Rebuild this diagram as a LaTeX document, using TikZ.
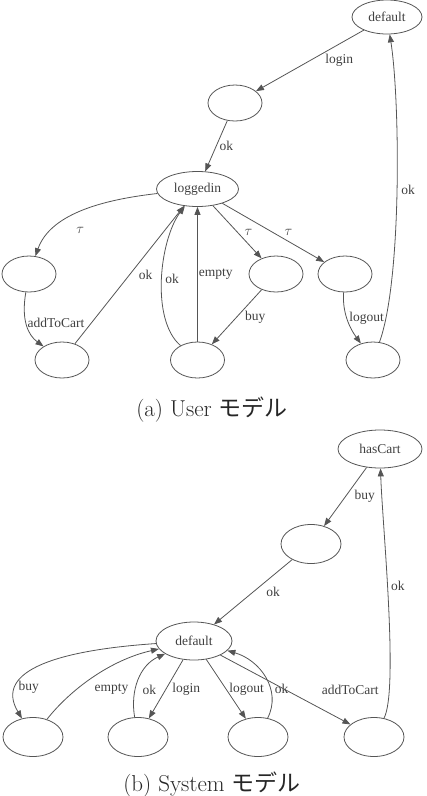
\documentclass[tikz,border=0pt]{standalone}
\usepackage{fontspec}
\newfontfamily\gvfont{Liberation Serif}
\newfontfamily\jpfont{Noto Sans CJK JP}
\usetikzlibrary{arrows.meta,positioning,shapes.geometric}
\definecolor{gvline}{HTML}{555555}
\definecolor{gvtext}{HTML}{404040}

\begin{document}
\begin{tikzpicture}[
  x=1pt,y=-1pt,
  >={Triangle[length=8pt,width=6pt]},
  state/.style={ellipse,draw=gvline,line width=0.8pt,inner sep=0pt,
    minimum width=54pt,minimum height=36pt,text=gvtext,
    font=\gvfont\fontsize{13.5}{14}\selectfont},
  bigstate/.style={state,minimum width=60pt,minimum height=39pt},
  trans/.style={->,draw=gvline,line width=0.8pt},
  lbl/.style={text=gvtext,inner sep=1pt,font=\gvfont\fontsize{13.5}{14}\selectfont},
  caption/.style={text=black!85,font=\fontsize{23}{23}\selectfont}
]
  \useasboundingbox (0,0) rectangle (427,796);

  % (a) User model
  \node[state,minimum width=70pt,minimum height=34pt] (udefault) at (387,17) {default};
  \node[state] (uwait) at (235,103) {};
  \node[state,minimum width=82pt,minimum height=35pt] (uloggedin) at (197.5,189) {loggedin};
  \node[state] (ucart) at (29,274) {};
  \node[state] (ucartok) at (62,360) {};
  \node[state] (ubuy) at (276,274) {};
  \node[state] (ubuyok) at (197.5,360) {};
  \node[state] (uout) at (345,274) {};
  \node[state] (uoutok) at (373,360) {};

  \draw[trans] (udefault) -- node[lbl,pos=.5,right=14pt] {login} (uwait);
  \draw[trans] (uwait) -- node[lbl,pos=.5,right=2pt] {ok} (uloggedin);
  \draw[trans] (uloggedin) .. controls +(-98,11) and +(21,-59) ..
    node[lbl,pos=.5,below=14pt] {$\tau$} (ucart);
  \draw[trans] (ucart) .. controls +(-8,46) and +(-34,-25) ..
    node[lbl,pos=.45,right=0pt] {addToCart} (ucartok);
  \draw[trans] (ucartok) -- node[lbl,pos=.5,right=8pt] {ok} (uloggedin);
  \draw[trans] (ubuyok) .. controls +(-47,-40) and +(-38,51) ..
    node[lbl,pos=.5,right=2pt] {ok} (uloggedin);
  \draw[trans] (ubuyok) -- node[lbl,pos=.5,right=0pt] {empty} (uloggedin);
  \draw[trans] (uloggedin) -- node[lbl,pos=.5,right=6pt] {$\tau$} (ubuy);
  \draw[trans] (ubuy) -- node[lbl,pos=.5,right=7pt] {buy} (ubuyok);
  \draw[trans] (uloggedin) -- node[lbl,pos=.5,right=10pt] {$\tau$} (uout);
  \draw[trans] (uout) .. controls +(-3,40) and +(-22,-30) ..
    node[lbl,pos=.45,right=1pt] {logout} (uoutok);
  \draw[trans] (uoutok) .. controls +(29,-80) and +(13,83) ..
    node[lbl,pos=.5,right=3pt] {ok} (udefault);

  \node[caption] (capa) at (212,410) {(a) User {\jpfont モデル}};

  % (b) System model
  \node[state,minimum width=84pt,minimum height=38pt] (shascart) at (380,449) {hasCart};
  \node[bigstate] (swait) at (311,544) {};
  \node[state,minimum width=76pt,minimum height=38pt] (sdefault) at (194,641) {default};
  \node[bigstate] (sbuy) at (33,737) {};
  \node[bigstate] (slogin) at (138,737) {};
  \node[bigstate] (slogout) at (258,737) {};
  \node[bigstate] (sadd) at (374,737) {};

  \draw[trans] (shascart) -- node[lbl,pos=.5,right=8pt] {buy} (swait);
  \draw[trans] (swait) -- node[lbl,pos=.5,right=12pt] {ok} (sdefault);
  \draw[trans] (sadd) .. controls +(25,-47) and +(2,71) ..
    node[lbl,pos=.55,right=2pt] {ok} (shascart);
  \draw[trans] (sdefault) .. controls +(-134,9) and +(-40,-67) ..
    node[lbl,pos=.75,right=0pt] {buy} (sbuy);
  \draw[trans] (sbuy) .. controls +(37,-47) and +(-84,19) ..
    node[lbl,pos=.5,below right=5pt and 0pt] {empty} (sdefault);
  \draw[trans] (slogin) .. controls +(-8,-47) and +(-54,24) ..
    node[lbl,pos=.35,right=6pt] {ok} (sdefault);
  \draw[trans] (sdefault) -- node[lbl,pos=.5,right=5pt] {login} (slogin);
  \draw[trans] (sdefault) -- node[lbl,pos=.5,right=2pt] {logout} (slogout);
  \draw[trans] (slogout) .. controls +(24,-47) and +(66,19) ..
    node[lbl,pos=.35,right=3pt] {ok} (sdefault);
  \draw[trans] (sdefault) -- node[lbl,pos=.5,right=35pt] {addToCart} (sadd);

  \node[caption] (capb) at (212,785) {(b) System {\jpfont モデル}};
\end{tikzpicture}
\end{document}
